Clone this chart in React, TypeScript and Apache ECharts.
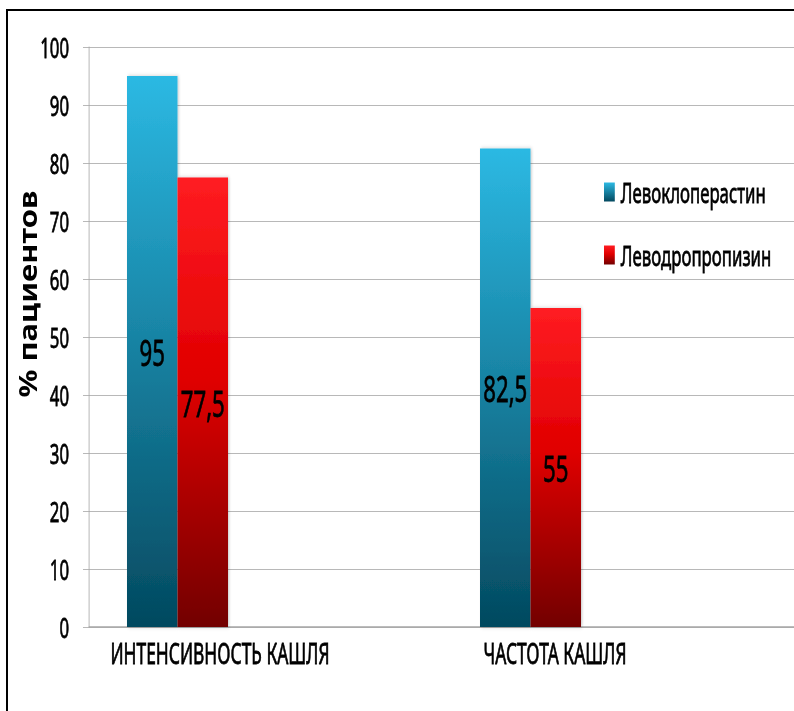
import React, { useEffect, useRef } from "react";
import * as echarts from "echarts";

// Chart data
const categories = ["ИНТЕНСИВНОСТЬ КАШЛЯ", "ЧАСТОТА КАШЛЯ"];
const seriesNames = ["Левоклоперастин", "Леводропропизин"];
const levocloperastine = [95, 82.5];
const levodropropizine = [77.5, 55];
const yAxisTitle = "% пациентов";

// The whole drawing is rendered wider and compressed horizontally,
// which gives the narrow, condensed lettering of the figure.
const SX = 0.6;
const W = 795 / SX;
const H = 711;
const ux = (screenX: number) => screenX / SX;

const FONT = '"Noto Sans", "Open Sans", sans-serif';
const GRID_GRAY = "#a6a6a6";
// a hairline outline gives the lettering a medium weight
const INK = { color: "#000", fontFamily: FONT, textBorderColor: "#000", textBorderWidth: 0.8 };

const blueFill = new echarts.graphic.LinearGradient(0, 0, 0, 1, [
  { offset: 0, color: "#2cb9e3" },
  { offset: 1, color: "#03495f" },
]);
const redFill = new echarts.graphic.LinearGradient(0, 0, 0, 1, [
  { offset: 0, color: "#ff1c22" },
  { offset: 0.45, color: "#e00000" },
  { offset: 1, color: "#720000" },
]);

const fmt = (v: number) => String(v).replace(".", ",");

export default function App() {
  const ref = useRef<HTMLDivElement>(null);

  useEffect(() => {
    if (!ref.current) return;
    const chart = echarts.init(ref.current, undefined, { renderer: "svg" });

    const barWidth = ux(50.5);
    const barLabel = {
      show: true,
      position: "inside",
      ...INK,
      fontSize: 37,
      formatter: (p: any) => fmt(p.value),
    };
    const catStyle = { ...INK, fontSize: 29 };

    chart.setOption({
      animation: false,
      backgroundColor: "#fff",
      grid: { left: ux(89), right: 0, top: 47, bottom: H - 627, containLabel: false },
      legend: {
        orient: "vertical",
        left: ux(601),
        top: 172,
        data: seriesNames,
        icon: "rect",
        itemWidth: 18,
        itemHeight: 19,
        itemGap: 33,
        textStyle: {
          ...INK,
          fontSize: 28,
          lineHeight: 30,
          padding: [0, 0, 0, 5],
        },
      },
      xAxis: {
        type: "category",
        data: categories,
        axisLine: { show: true, lineStyle: { color: GRID_GRAY, width: 1.5 } },
        axisTick: { show: false },
        axisLabel: {
          margin: 11,
          formatter: (v: string, i: number) => `{c${i}|${v}}`,
          rich: {
            c0: { ...catStyle, padding: [0, ux(91), 0, 0] },
            c1: { ...catStyle, padding: [0, ux(127), 0, 0] },
          },
        },
      },
      yAxis: {
        type: "value",
        min: 0,
        max: 100,
        interval: 10,
        axisLine: { show: true, lineStyle: { color: GRID_GRAY, width: 1 } },
        axisTick: { show: true, length: ux(6), lineStyle: { color: GRID_GRAY, width: 1 } },
        splitLine: { show: true, lineStyle: { color: GRID_GRAY, width: 1 } },
        axisLabel: { ...INK, fontSize: 28, margin: ux(20) },
      },
      series: [
        {
          name: seriesNames[0],
          type: "bar",
          data: levocloperastine,
          barWidth,
          barGap: "0%",
          itemStyle: {
            color: blueFill,
            shadowColor: "rgba(0,0,0,0.2)",
            shadowBlur: 4,
            shadowOffsetX: 2,
          },
          label: barLabel,
        },
        {
          name: seriesNames[1],
          type: "bar",
          data: levodropropizine,
          barWidth,
          barGap: "0%",
          itemStyle: {
            color: redFill,
            shadowColor: "rgba(0,0,0,0.2)",
            shadowBlur: 4,
            shadowOffsetX: 2,
          },
          label: barLabel,
        },
        {
          // empty slot that keeps the bar pairs toward the left of each category
          name: "spacer",
          type: "bar",
          data: ["-", "-"],
          barWidth: ux(176),
          barGap: "0%",
          silent: true,
        },
      ],
      graphic: [
        // frame
        { type: "rect", shape: { x: ux(6), y: 9, width: W, height: 2 }, style: { fill: "#000" } },
        { type: "rect", shape: { x: ux(6), y: 9, width: ux(2), height: H }, style: { fill: "#000" } },
        // y axis title
        {
          type: "text",
          x: ux(27.5),
          y: 294,
          rotation: Math.PI / 2,
          scaleY: 0.83 / SX,
          style: {
            text: yAxisTitle,
            fill: "#000",
            font: `bold 31px ${FONT}`,
            align: "center",
            verticalAlign: "middle",
          },
        },
      ],
    });

    return () => chart.dispose();
  }, []);

  return (
    <div
      style={{
        position: "absolute",
        left: 0,
        top: 0,
        width: 794,
        height: 711,
        overflow: "hidden",
        background: "#fff",
      }}
    >
      <div
        ref={ref}
        style={{ width: W, height: H, transform: `scaleX(${SX})`, transformOrigin: "0 0" }}
      />
    </div>
  );
}
